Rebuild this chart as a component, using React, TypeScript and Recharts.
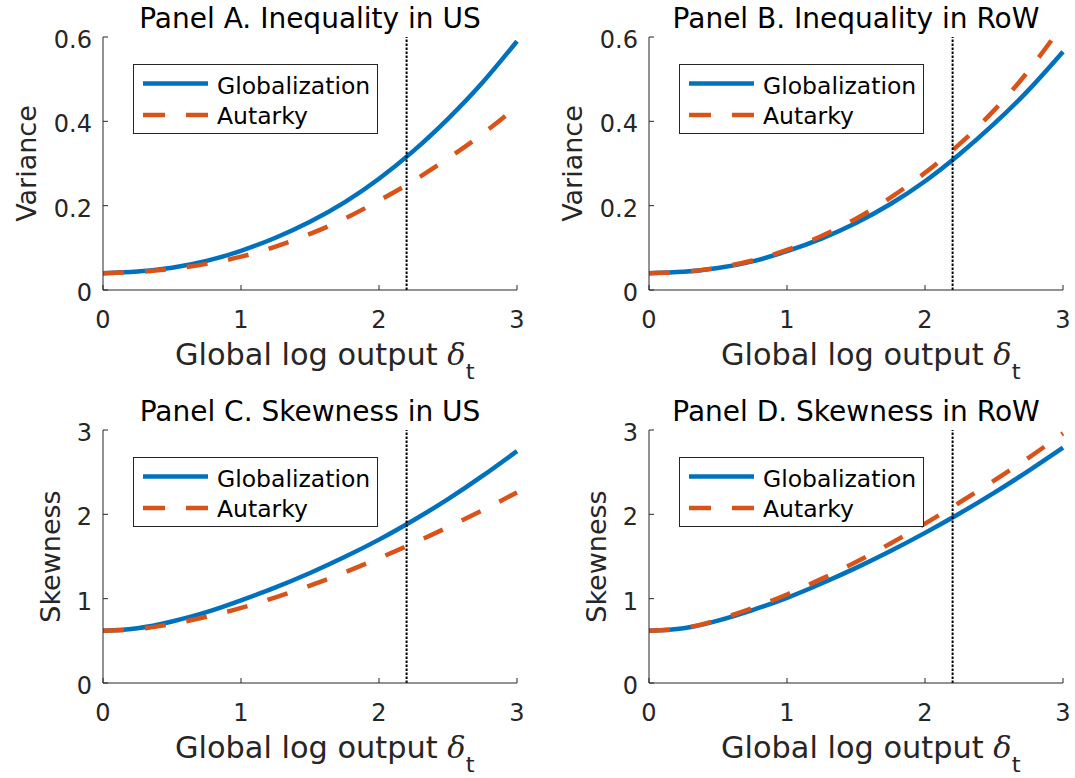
import { LineChart, Line, XAxis, YAxis, ReferenceLine, Legend, Customized } from 'recharts';

const BLUE = '#0072BD';
const ORANGE = '#D95319';
const AXIS = '#262626';
const FONT = '"DejaVu Sans", sans-serif';

// delta grid shared by all panels
const deltaValues = [0, 0.25, 0.5, 0.75, 1, 1.25, 1.5, 1.75, 2, 2.25, 2.5, 2.75, 3];
const xTicks = [0, 1, 2, 3];
const varianceTicks = [0, 0.2, 0.4, 0.6];
const skewTicks = [0, 1, 2, 3];
const deltaMarker = 2.2;

const varUsGlobal = [0.04, 0.044, 0.053, 0.069, 0.093, 0.124, 0.162, 0.208, 0.264, 0.33, 0.406, 0.492, 0.59];
const varUsAutarky = [0.04, 0.043, 0.05, 0.062, 0.079, 0.103, 0.133, 0.169, 0.212, 0.259, 0.312, 0.37, 0.435];
const varRowGlobal = [0.04, 0.043, 0.052, 0.068, 0.092, 0.122, 0.159, 0.204, 0.258, 0.322, 0.394, 0.474, 0.565];
const varRowAutarky = [0.04, 0.043, 0.053, 0.07, 0.095, 0.128, 0.169, 0.219, 0.278, 0.346, 0.426, 0.52, 0.63];
const skewUsGlobal = [0.62, 0.65, 0.73, 0.84, 0.98, 1.133, 1.304, 1.493, 1.7, 1.93, 2.18, 2.455, 2.75];
const skewUsAutarky = [0.62, 0.64, 0.7, 0.785, 0.89, 1.015, 1.155, 1.31, 1.48, 1.658, 1.848, 2.048, 2.26];
const skewRowGlobal = [0.62, 0.65, 0.74, 0.865, 1.01, 1.18, 1.365, 1.565, 1.78, 2.01, 2.255, 2.515, 2.79];
const skewRowAutarky = [0.62, 0.65, 0.75, 0.89, 1.05, 1.235, 1.435, 1.655, 1.89, 2.14, 2.4, 2.67, 2.96];

const panels = [
  { title: 'Panel A. Inequality in US', yLabel: 'Variance', ticks: varianceTicks, glob: varUsGlobal, aut: varUsAutarky, col: 0, row: 0, yLabelX: 36 },
  { title: 'Panel B. Inequality in RoW', yLabel: 'Variance', ticks: varianceTicks, glob: varRowGlobal, aut: varRowAutarky, col: 1, row: 0, yLabelX: 36 },
  { title: 'Panel C. Skewness in US', yLabel: 'Skewness', ticks: skewTicks, glob: skewUsGlobal, aut: skewUsAutarky, col: 0, row: 1, yLabelX: 60 },
  { title: 'Panel D. Skewness in RoW', yLabel: 'Skewness', ticks: skewTicks, glob: skewRowGlobal, aut: skewRowAutarky, col: 1, row: 1, yLabelX: 60 },
];

function LegendBox() {
  return (
    <div style={{ width: 245, height: 70, border: `1px solid ${AXIS}`, background: '#fff', boxSizing: 'border-box' }}>
      <svg width={243} height={68} style={{ display: 'block' }}>
        <line x1={9} x2={74} y1={18.5} y2={18.5} stroke={BLUE} strokeWidth={4.5} />
        <line x1={9} x2={74} y1={50} y2={50} stroke={ORANGE} strokeWidth={4.5} strokeDasharray="22 21" />
        <text x={83} y={28.5} fontSize={23.5} fontFamily={FONT} fill="#000">Globalization</text>
        <text x={83} y={59} fontSize={23.5} fontFamily={FONT} fill="#000">Autarky</text>
      </svg>
    </div>
  );
}

function Panel({ p }: { p: (typeof panels)[number] }) {
  const data = deltaValues.map((d, i) => ({ delta: d, glob: p.glob[i], aut: p.aut[i] }));
  const top = p.ticks[p.ticks.length - 1];
  const tickStyle = { fontSize: 24, fill: AXIS, fontFamily: FONT };

  return (
    <div style={{ position: 'absolute', left: p.col * 546, top: p.row * 393 }}>
      <LineChart width={540} height={385} data={data} margin={{ top: 37, right: 23, bottom: 0, left: 0 }}>
        <XAxis
          xAxisId="b"
          dataKey="delta"
          type="number"
          domain={[0, 3]}
          ticks={xTicks}
          height={95}
          tickSize={-5}
          tickMargin={26}
          stroke={AXIS}
          tick={tickStyle}
          label={({ viewBox }: any) => (
            <text
              transform={`translate(${viewBox.x + 72} ${viewBox.y + 75}) scale(1.03 1)`}
              fontSize={29.5}
              fontFamily={FONT}
              fill={AXIS}
            >
              <tspan>Global log output </tspan>
              <tspan fontFamily='"DejaVu Serif", serif' fontStyle="italic">δ</tspan>
              <tspan dy={14} fontSize={22}>t</tspan>
            </text>
          )}
        />
        <XAxis
          xAxisId="t"
          orientation="top"
          dataKey="delta"
          type="number"
          domain={[0, 3]}
          ticks={xTicks}
          height={0}
          tickSize={-5}
          tick={false}
          stroke={AXIS}
        />
        <YAxis
          yAxisId="l"
          domain={[0, top]}
          ticks={p.ticks}
          allowDataOverflow
          width={103}
          tickSize={-5}
          tickMargin={16}
          stroke={AXIS}
          tick={{ ...tickStyle, dy: 2.5 }}
          label={({ viewBox }: any) => (
            <text
              x={p.yLabelX}
              y={viewBox.y + viewBox.height / 2}
              textAnchor="middle"
              transform={`rotate(-90 ${p.yLabelX} ${viewBox.y + viewBox.height / 2})`}
              fontSize={27}
              fontFamily={FONT}
              fill={AXIS}
            >
              {p.yLabel}
            </text>
          )}
        />
        <YAxis
          yAxisId="r"
          orientation="right"
          domain={[0, top]}
          ticks={p.ticks}
          allowDataOverflow
          width={0}
          tickSize={-5}
          tick={false}
          stroke={AXIS}
        />
        <Line
          xAxisId="b"
          yAxisId="l"
          type="natural"
          dataKey="glob"
          name="Globalization"
          stroke={BLUE}
          strokeWidth={4.5}
          dot={false}
          isAnimationActive={false}
        />
        <Line
          xAxisId="b"
          yAxisId="l"
          type="natural"
          dataKey="aut"
          name="Autarky"
          stroke={ORANGE}
          strokeWidth={4.5}
          strokeDasharray="21 21"
          dot={false}
          isAnimationActive={false}
        />
        <ReferenceLine xAxisId="b" yAxisId="l" x={deltaMarker} stroke="#000" strokeWidth={2} strokeDasharray="2.5 1.5" />
        <Customized
          component={() => (
            <text x={310} y={28} textAnchor="middle" fontSize={28} fontFamily={FONT} fill="#000">
              {p.title}
            </text>
          )}
        />
        <Legend
          layout="vertical"
          align="center"
          verticalAlign="middle"
          content={() => <LegendBox />}
          wrapperStyle={{ position: 'absolute', left: 133, top: 64, width: 245, height: 70 }}
        />
      </LineChart>
    </div>
  );
}

export default function App() {
  return (
    <div style={{ position: 'absolute', left: 0, top: 0, width: 1075, height: 778, background: '#fff' }}>
      {panels.map((p) => (
        <Panel key={p.title} p={p} />
      ))}
    </div>
  );
}
